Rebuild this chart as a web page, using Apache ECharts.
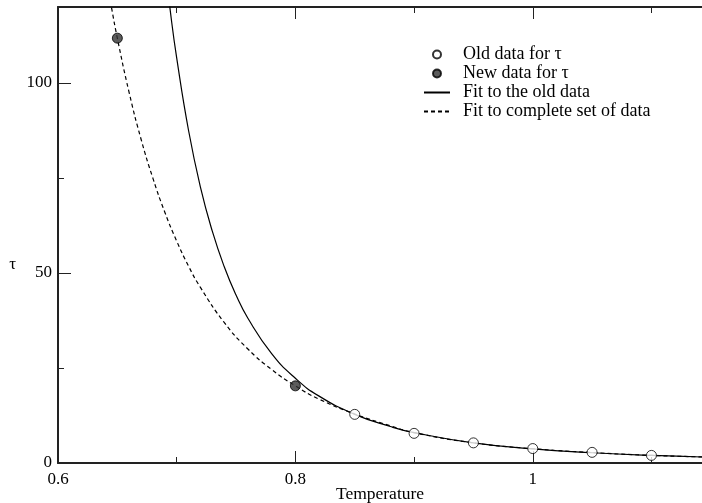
<!DOCTYPE html>
<html><head><meta charset="utf-8">
<script src="https://cdn.jsdelivr.net/npm/echarts@6/dist/echarts.min.js"></script>
<style>html,body{margin:0;padding:0;background:#fff}#c{width:702px;height:503px}</style>
</head><body><div id="c"></div>
<script>
var oldT = [0.85, 0.9, 0.95, 1.0, 1.05, 1.1];
var oldTau = [12.8, 7.8, 5.3, 3.8, 2.8, 2.0];
var newT = [0.65, 0.8];
var newTau = [111.8, 20.3];
var fitOldT = [0.69, 0.695, 0.70, 0.71, 0.72, 0.73, 0.74, 0.75, 0.76, 0.78, 0.80, 0.82, 0.85, 0.88, 0.90, 0.95, 1.0, 1.05, 1.1, 1.15];
var fitOldTau = [131.6, 118, 106.6, 87.5, 72.6, 61.0, 51.7, 44.2, 38.1, 28.8, 22.3, 17.6, 12.8, 9.6, 8.0, 5.3, 3.7, 2.7, 2.0, 1.53];
var fitAllT = [0.64, 0.645, 0.65, 0.66, 0.67, 0.68, 0.69, 0.70, 0.71, 0.72, 0.74, 0.76, 0.78, 0.80, 0.82, 0.85, 0.88, 0.90, 0.95, 1.0, 1.05, 1.1, 1.15];
var fitAllTau = [128.9, 120, 111.8, 97.4, 85.2, 74.9, 66.0, 58.4, 51.8, 46.2, 37.0, 30.0, 24.6, 20.3, 16.8, 12.9, 9.8, 8.0, 5.3, 3.75, 2.75, 2.0, 1.55];
var xTicks = ['0.6', '0.8', '1'];
var yTicks = ['0', '50', '100'];
var names = ['Old data for \u03c4', 'New data for \u03c4', 'Fit to the old data', 'Fit to complete set of data'];

function zip(a, b) { return a.map(function (v, i) { return [v, b[i]]; }); }
var font = 'Liberation Serif';
var chart = echarts.init(document.getElementById('c'), null, { renderer: 'canvas' });
var xBase = {
  type: 'value', min: 0.6, max: 1.1426, interval: 0.2,
  axisLine: { show: true, lineStyle: { color: '#222', width: 2 } },
  axisTick: { show: true, inside: true, length: 12, lineStyle: { color: '#222', width: 1 } },
  minorTick: { show: true, splitNumber: 2, length: 6, lineStyle: { color: '#222', width: 1 } },
  splitLine: { show: false }
};
chart.setOption({
  animation: false,
  backgroundColor: '#fff',
  grid: { left: 58, right: 0, top: 7, bottom: 40, containLabel: false, outerBoundsMode: 'none' },
  legend: {
    orient: 'vertical', left: 418, top: 40,
    itemWidth: 26, itemHeight: 8, itemGap: 0,
    textStyle: { fontFamily: font, fontSize: 18, color: '#000', lineHeight: 19, padding: [0, 0, 0, 8] },
    data: [
      { name: names[0] },
      { name: names[1] },
      { name: names[2], itemStyle: { opacity: 0 } },
      { name: names[3], itemStyle: { opacity: 0 } }
    ]
  },
  xAxis: [
    Object.assign({}, xBase, {
      position: 'bottom', name: 'Temperature', nameLocation: 'middle', nameGap: 22, nameMoveOverlap: false,
      nameTextStyle: { fontFamily: font, fontSize: 17.5, color: '#000' },
      axisLabel: { fontFamily: font, fontSize: 17, color: '#000', margin: 8, showMaxLabel: false,
        formatter: function (v) { var s = String(Math.round(v * 10) / 10); return xTicks.indexOf(s) >= 0 ? s : ''; } }
    }),
    Object.assign({}, xBase, { position: 'top', axisLabel: { show: false } })
  ],
  yAxis: {
    type: 'value', min: 0, max: 120, interval: 50,
    name: '{a|\u03c4}', nameLocation: 'middle', nameGap: 42, nameRotate: 0, nameMoveOverlap: false,
    nameTextStyle: { fontFamily: font, fontSize: 17, color: '#000',
      rich: { a: { fontFamily: font, fontSize: 17, color: '#000', padding: [60, 0, 0, 0] } } },
    axisLine: { show: true, lineStyle: { color: '#222', width: 2 } },
    axisTick: { show: true, inside: true, length: 13, lineStyle: { color: '#222', width: 1 } },
    minorTick: { show: true, splitNumber: 2, length: 6, lineStyle: { color: '#222', width: 1 } },
    splitLine: { show: false },
    axisLabel: { fontFamily: font, fontSize: 17, color: '#000', margin: 6, showMaxLabel: false,
      formatter: function (v) { var s = String(v); return yTicks.indexOf(s) >= 0 ? s : ''; } }
  },
  series: [
    { name: names[0], type: 'scatter', symbol: 'circle', symbolSize: 10, z: 5,
      itemStyle: { color: '#fff', borderColor: '#000', borderWidth: 1 },
      data: zip(oldT, oldTau) },
    { name: names[1], type: 'scatter', symbol: 'circle', symbolSize: 10, z: 5,
      itemStyle: { color: '#333', borderColor: '#000', borderWidth: 1 },
      data: zip(newT, newTau) },
    { name: names[2], type: 'line', smooth: true, symbol: 'none', showSymbol: false, clip: true,
      lineStyle: { color: '#000', width: 1.2, type: 'solid' }, itemStyle: { color: '#000' },
      data: zip(fitOldT, fitOldTau) },
    { name: names[3], type: 'line', smooth: true, symbol: 'none', showSymbol: false, clip: true,
      lineStyle: { color: '#000', width: 1.2, type: [4, 3] }, itemStyle: { color: '#000' },
      data: zip(fitAllT, fitAllTau) }
  ]
});
</script></body></html>
